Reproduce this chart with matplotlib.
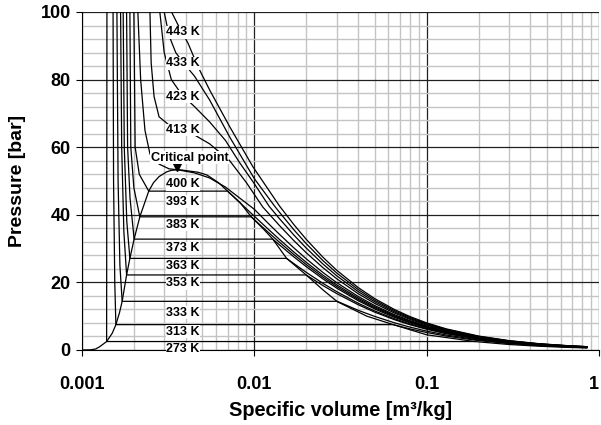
import matplotlib
matplotlib.use("Agg")
import matplotlib.pyplot as plt
from matplotlib.ticker import LogLocator, MultipleLocator, FixedLocator, NullFormatter

plt.rcParams['font.family'] = ['Liberation Sans', 'DejaVu Sans']
plt.rcParams['font.weight'] = 'bold'

# Saturation dome (liquid side -> critical point -> vapour side)
v_sat = [0.001, 0.00112, 0.0012, 0.00127, 0.00139, 0.0015, 0.001573, 0.00165, 0.001711,
         0.001815, 0.001897, 0.002007, 0.002166, 0.00244, 0.0026, 0.0028, 0.0031, 0.0033,
         0.00355, 0.0038, 0.0041, 0.0047, 0.0053, 0.0062, 0.0070, 0.0083, 0.0096, 0.0112,
         0.0128, 0.0154, 0.020, 0.025, 0.0303, 0.045, 0.064, 0.1, 0.19]
p_sat = [0.0, 0.05, 0.3, 1.0, 2.5, 5.0, 7.5, 11.0, 14.4, 22.2, 27.1, 32.8, 39.4, 47.0, 49.5,
         51.3, 52.7, 53.15, 53.3, 53.25, 53.0, 52.6, 51.8, 49.5, 47.0, 43.5, 39.4, 36.0, 32.8,
         27.1, 22.2, 17.8, 14.3, 10.0, 7.5, 4.5, 2.5]

# Isotherms, v in m3/kg and p in bar
v_273 = [0.001396, 0.001393, 0.00139, 0.19, 0.3, 0.45, 0.65, 0.85]
p_273 = [104, 50, 2.5, 2.5, 1.63, 1.11, 0.78, 0.60]

v_313 = [0.00151, 0.001515, 0.001525, 0.00155, 0.001573, 0.064, 0.08, 0.1, 0.13, 0.2, 0.3,
         0.45, 0.65, 0.85]
p_313 = [104, 100, 50, 20, 7.5, 7.5, 6.25, 5.17, 4.11, 2.78, 1.90, 1.29, 0.90, 0.69]

v_333 = [0.00159, 0.001595, 0.00162, 0.00166, 0.001711, 0.0303, 0.04, 0.05, 0.065, 0.08, 0.1,
         0.13, 0.2, 0.3, 0.45, 0.65, 0.85]
p_333 = [104, 100, 50, 25, 14.4, 14.4, 11.75, 9.93, 8.05, 6.77, 5.59, 4.43, 2.98, 2.03, 1.38,
         0.96, 0.74]

v_353 = [0.00167, 0.001675, 0.0017, 0.00175, 0.001815, 0.020, 0.025, 0.03, 0.04, 0.05, 0.065,
         0.08, 0.1, 0.13, 0.2, 0.3, 0.45, 0.65, 0.85]
p_353 = [104, 100, 60, 35, 22.2, 22.2, 19.07, 16.72, 13.41, 11.19, 8.97, 7.48, 6.13, 4.82,
         3.22, 2.18, 1.47, 1.03, 0.79]

v_363 = [0.00173, 0.001734, 0.00176, 0.00182, 0.001897, 0.0154, 0.017, 0.02, 0.025, 0.03, 0.04,
         0.05, 0.065, 0.08, 0.1, 0.13, 0.2, 0.3, 0.45, 0.65, 0.85]
p_363 = [104, 100, 60, 38, 27.1, 27.1, 25.52, 22.99, 19.73, 17.29, 13.85, 11.55, 9.25, 7.71,
         6.32, 4.97, 3.31, 2.25, 1.51, 1.06, 0.81]

v_373 = [0.00181, 0.001815, 0.00184, 0.0019, 0.002007, 0.0128, 0.014, 0.017, 0.02, 0.025, 0.03,
         0.04, 0.05, 0.065, 0.08, 0.1, 0.13, 0.2, 0.3, 0.45, 0.65, 0.85]
p_373 = [104, 100, 60, 45, 32.8, 32.8, 31.09, 27.51, 24.67, 21.04, 18.34, 14.60, 12.13, 9.67,
         8.04, 6.57, 5.15, 3.43, 2.32, 1.56, 1.09, 0.83]

v_383 = [0.00189, 0.001897, 0.00192, 0.002, 0.002166, 0.0096, 0.011, 0.012, 0.014, 0.017,
         0.02, 0.025, 0.03, 0.04, 0.05, 0.065, 0.08, 0.1, 0.13, 0.2, 0.3, 0.45, 0.65, 0.85]
p_383 = [104, 100, 60, 48, 39.4, 39.4, 36.64, 34.9, 31.87, 28.2, 25.29, 21.58, 18.82, 14.98,
         12.45, 9.92, 8.25, 6.74, 5.29, 3.52, 2.38, 1.60, 1.12, 0.86]

v_393 = [0.00199, 0.002, 0.002035, 0.00215, 0.00244, 0.0070, 0.0085, 0.01, 0.012, 0.014, 0.017,
         0.02, 0.025, 0.03, 0.04, 0.05, 0.065, 0.08, 0.1, 0.13, 0.2, 0.3, 0.45, 0.65, 0.85]
p_393 = [104, 100, 60, 52, 47.0, 47.0, 42.96, 39.58, 35.82, 32.71, 28.94, 25.96, 22.14, 19.31,
         15.37, 12.77, 10.18, 8.47, 6.91, 5.42, 3.61, 2.44, 1.64, 1.14, 0.88]

v_400 = [0.0021, 0.00211, 0.00219, 0.00232, 0.00248, 0.0028, 0.0032, 0.0036, 0.0045, 0.0055,
         0.0068, 0.0085, 0.01, 0.012, 0.014, 0.017, 0.02, 0.025, 0.03, 0.04, 0.05, 0.065, 0.08,
         0.1, 0.13, 0.2, 0.3, 0.45, 0.65, 0.85]
p_400 = [104, 100, 80, 65, 58, 55, 53.6, 53.3, 52.4, 50.9, 48.2, 44.4, 41.63, 37.55, 34.21,
         30.17, 26.99, 22.95, 19.97, 15.85, 13.13, 10.45, 8.68, 7.08, 5.55, 3.68, 2.49, 1.67,
         1.17, 0.89]

v_413 = [0.00246, 0.00248, 0.00252, 0.00262, 0.0028, 0.0033, 0.0042, 0.0055, 0.0072, 0.009,
         0.0112, 0.014, 0.017, 0.02, 0.025, 0.03, 0.04, 0.05, 0.065, 0.08, 0.1, 0.13, 0.2, 0.3,
         0.45, 0.65, 0.85]
p_413 = [104, 100, 85, 75, 69, 66, 64.5, 61, 56, 49.5, 42.3, 36.81, 32.31, 28.79, 24.37, 21.12,
         16.68, 13.78, 10.93, 9.06, 7.37, 5.76, 3.82, 2.58, 1.73, 1.21, 0.92]

v_423 = [0.0028, 0.00283, 0.0030, 0.0033, 0.0038, 0.0045, 0.0055, 0.0068, 0.0082, 0.01,
         0.0122, 0.014, 0.017, 0.02, 0.025, 0.03, 0.04, 0.05, 0.065, 0.08, 0.1, 0.13, 0.2, 0.3,
         0.45, 0.65, 0.85]
p_423 = [104, 100, 88, 80, 75.5, 72, 67.5, 62, 55.5, 49.2, 42.5, 38.84, 33.96, 30.17, 25.45,
         22.0, 17.31, 14.27, 11.29, 9.34, 7.59, 5.93, 3.92, 2.65, 1.78, 1.24, 0.95]

v_433 = [0.00297, 0.0030, 0.0032, 0.0035, 0.0038, 0.0045, 0.0055, 0.0072, 0.01, 0.0131, 0.014,
         0.017, 0.02, 0.025, 0.03, 0.04, 0.05, 0.065, 0.08, 0.1, 0.13, 0.2, 0.3, 0.45, 0.65,
         0.85]
p_433 = [104, 100, 93, 88, 85.5, 81, 74, 63, 50.7, 42.6, 40.74, 35.51, 31.48, 26.46, 22.83,
         17.91, 14.73, 11.64, 9.62, 7.81, 6.09, 4.03, 2.71, 1.82, 1.27, 0.97]

v_443 = [0.00325, 0.00331, 0.00369, 0.00413, 0.00471, 0.00551, 0.00719, 0.00982, 0.014, 0.017,
         0.02, 0.025, 0.03, 0.04, 0.05, 0.065, 0.08, 0.1, 0.13, 0.2, 0.3, 0.45, 0.65, 0.85]
p_443 = [104, 100, 95.2, 90.7, 83.8, 76.9, 66.1, 54.2, 42.61, 37.04, 32.76, 27.46, 23.64, 18.5,
         15.19, 11.98, 9.89, 8.02, 6.25, 4.13, 2.78, 1.86, 1.30, 0.99]

# Label texts and where they sit
labels = ['443 K', '433 K', '423 K', '413 K', '400 K', '393 K', '383 K', '373 K',
          '363 K', '353 K', '333 K', '313 K', '273 K']
label_p = [94.0, 84.8, 74.9, 65.1, 49.0, 43.9, 37.0, 30.1, 24.85, 19.7, 11.0, 5.4, 0.2]
label_v = 0.00386
crit_v, crit_p = 0.00355, 53.3

isotermas = [(v_273, p_273), (v_313, p_313), (v_333, p_333), (v_353, p_353), (v_363, p_363),
             (v_373, p_373), (v_383, p_383), (v_393, p_393), (v_400, p_400), (v_413, p_413),
             (v_423, p_423), (v_433, p_433), (v_443, p_443)]

fig = plt.figure(figsize=(6.01, 4.25), dpi=100)
ax = fig.add_axes([0.1364, 0.1765, 0.8602, 0.7953])

ax.set_xscale('log')
ax.set_xlim(0.001, 1)
ax.set_ylim(0, 100)

ax.xaxis.set_major_locator(FixedLocator([0.001, 0.01, 0.1, 1]))
ax.xaxis.set_minor_locator(LogLocator(base=10, subs=range(2, 10)))
ax.xaxis.set_minor_formatter(NullFormatter())
ax.set_xticklabels(['0.001', '0.01', '0.1', '1'])
ax.yaxis.set_major_locator(MultipleLocator(20))
ax.yaxis.set_minor_locator(MultipleLocator(4))

ax.grid(True, which='minor', color='#c4c4c4', lw=1.0)
ax.grid(True, which='major', color='#202020', lw=0.9)
ax.set_axisbelow(True)

for v, p in isotermas:
    ax.plot(v, p, color='black', lw=0.9)
ax.plot(v_sat, p_sat, color='black', lw=0.9)
ax.plot([crit_v], [crit_p + 0.9], marker='v', color='black', markersize=6, ls='none')

for txt, yp in zip(labels, label_p):
    ax.text(label_v, yp, txt, ha='center', va='center', fontsize=9, fontweight='bold',
            bbox=dict(facecolor='white', edgecolor='none', pad=0.3))
ax.text(0.00422, 56.9, 'Critical point', ha='center', va='center', fontsize=9.2,
        fontweight='bold', bbox=dict(facecolor='white', edgecolor='none', pad=0.3))

for s in ['top', 'right']:
    ax.spines[s].set_visible(False)
ax.spines['left'].set_color('black')
ax.spines['bottom'].set_color('black')
ax.tick_params(axis='y', which='major', direction='out', length=4, labelsize=13, pad=4)
ax.tick_params(axis='x', which='major', direction='out', length=4, labelsize=13, pad=15)
ax.tick_params(which='minor', length=0)
ax.get_xticklabels()[-1].set_ha('right')

ax.set_xlabel('Specific volume [m³/kg]', fontsize=14.3, fontweight='bold', va='center')
ax.xaxis.set_label_coords(0.5, -0.178)
ax.set_ylabel('Pressure [bar]', fontsize=14, fontweight='bold', va='center')
ax.yaxis.set_label_coords(-0.124, 0.5)

fig.savefig('out.png', dpi=100)
